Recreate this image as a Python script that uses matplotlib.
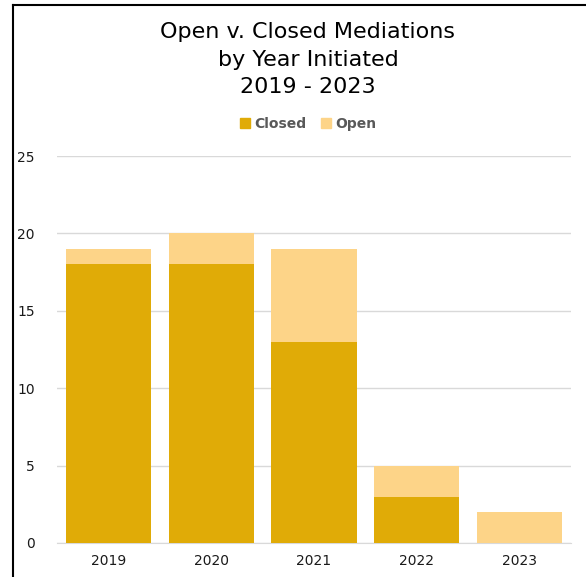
import matplotlib
matplotlib.use('Agg')
import matplotlib.pyplot as plt
from matplotlib.lines import Line2D
import numpy as np

years = ['2019', '2020', '2021', '2022', '2023']
closed = [18, 18, 13, 3, 0]
open_ = [1, 2, 6, 2, 2]

GOLD = '#E0AB07'
LIGHT = '#FDD488'
GRID = '#D9D9D9'

W, H = 586, 577
fig = plt.figure(figsize=(W / 100, H / 100), dpi=100)
fig.patch.set_facecolor('white')

# plot area in pixels: x 57..571, y 156 (25) .. 543 (0)
ax = fig.add_axes([57 / W, 1 - 543 / H, (571 - 57) / W, (543 - 156) / H])
x = np.arange(len(years))
ax.bar(x, closed, width=0.83, color=GOLD, zorder=3, label='Closed')
ax.bar(x, open_, width=0.83, bottom=closed, color=LIGHT, zorder=3, label='Open')

ax.set_xlim(-0.5, len(years) - 0.5)
ax.set_ylim(0, 25)
ax.set_yticks(range(0, 26, 5))
ax.set_xticks(x)
ax.set_xticklabels(years)
ax.yaxis.grid(True, color=GRID, lw=1, zorder=0)
for s in ['top', 'right', 'left']:
    ax.spines[s].set_visible(False)
ax.spines['bottom'].set_color(GRID)
ax.tick_params(axis='both', length=0, labelsize=10, colors='#1a1a1a')
ax.tick_params(axis='y', pad=16)
ax.tick_params(axis='x', pad=8)

# title
fig.text(0.5 + 15 / W, 1 - 32 / H, 'Open v. Closed Mediations', ha='center', va='center', fontsize=16)
fig.text(0.5 + 15 / W, 1 - 60 / H, 'by Year Initiated', ha='center', va='center', fontsize=16)
fig.text(0.5 + 15 / W, 1 - 87 / H, '2019 - 2023', ha='center', va='center', fontsize=16)

# legend
handles = [Line2D([], [], marker='s', ls='', color=GOLD, markersize=7),
           Line2D([], [], marker='s', ls='', color=LIGHT, markersize=7)]
fig.legend(handles, ['Closed', 'Open'], loc='center', bbox_to_anchor=(0.5 + 15 / W, 1 - 124 / H),
           ncol=2, frameon=False, fontsize=10, handlelength=0.8, handletextpad=0.3,
           columnspacing=1.0, labelcolor='#595959', prop={'weight': 'bold', 'size': 10})

# frame lines (left and top only)
fig.add_artist(Line2D([13 / W, 13 / W], [0, 1 - 5 / H], color='black', lw=1.5))
fig.add_artist(Line2D([13 / W, 1], [1 - 5 / H, 1 - 5 / H], color='black', lw=1.5))

fig.savefig('out.png', dpi=100, facecolor='white')
